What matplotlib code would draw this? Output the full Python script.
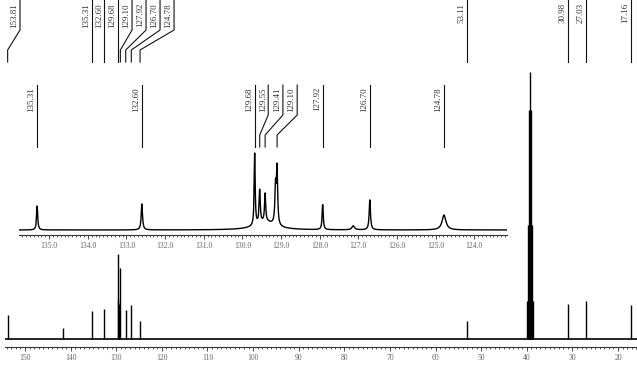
import numpy as np
import matplotlib
matplotlib.use('Agg')
import matplotlib.pyplot as plt
from matplotlib import transforms
from matplotlib.lines import Line2D
from matplotlib.ticker import MultipleLocator, FormatStrFormatter

# full spectrum: peak positions (ppm) and heights
main_ppm = [153.81, 141.70, 135.31, 132.60, 129.68, 129.55, 129.41, 129.10,
            127.92, 126.70, 124.78, 53.11,
            39.92, 39.71, 39.50, 39.29, 39.08, 38.87, 38.66,
            30.98, 27.03, 17.16]
main_height = [24, 11, 28, 30, 85, 40, 35, 71,
               29, 34, 18, 18,
               38, 114, 229, 267, 229, 114, 38,
               35, 38, 34]

# labelled peaks of the full spectrum and where their labels sit
main_labels = [153.81, 135.31, 132.60, 129.68, 129.10, 127.92, 126.70, 124.78,
               53.11, 30.98, 27.03, 17.16]
main_label_x = [151.10, 135.31, 132.60, 129.68, 126.54, 123.47, 120.40, 117.33,
                53.11, 30.98, 27.03, 17.16]

# expanded aromatic region (inset): position, height, width (ppm)
inset_ppm = [135.31, 132.60, 129.68, 129.55, 129.41, 129.14, 129.10, 129.40,
             127.92, 127.13, 126.70, 124.78]
inset_height = [24, 26, 72, 33, 28, 38, 55, 8,
                25, 4, 30, 15]
inset_width = [0.035, 0.04, 0.03, 0.035, 0.035, 0.04, 0.035, 0.6,
               0.035, 0.08, 0.04, 0.12]

inset_labels = [135.31, 132.60, 129.68, 129.55, 129.41, 129.10, 127.92, 126.70, 124.78]
inset_label_x = [135.31, 132.60, 129.68, 129.33, 128.95, 128.58, 127.92, 126.70, 124.78]

W, H = 637, 383
fig = plt.figure(figsize=(W / 100, H / 100), dpi=100)
serif = 'Liberation Serif'


def fx(px):
    return px / W


def fy(py):
    return 1 - py / H


def style_axis(ax, major, minor, fmt):
    for s in ['top', 'left', 'right']:
        ax.spines[s].set_visible(False)
    ax.spines['bottom'].set_linewidth(0.8)
    ax.spines['bottom'].set_color('#333333')
    ax.set_yticks([])
    ax.xaxis.set_major_locator(MultipleLocator(major))
    ax.xaxis.set_minor_locator(MultipleLocator(minor))
    ax.xaxis.set_major_formatter(FormatStrFormatter(fmt))
    ax.tick_params(axis='x', which='major', direction='out', length=3, width=0.7,
                   color='#444444', pad=2, labelsize=5.5, labelcolor='#666666')
    ax.tick_params(axis='x', which='minor', direction='out', length=1.5, width=0.6,
                   color='#444444')
    for t in ax.get_xticklabels():
        t.set_family(serif)
    ax.patch.set_alpha(0)


def draw_labels(ax, peaks, label_x, y_top, y_k1, y_k2, y_bot, text_top):
    blend = transforms.blended_transform_factory(ax.transData, fig.transFigure)
    tr = transforms.offset_copy(blend, fig=fig, x=-1.5, y=0, units='dots')
    for p, lx in zip(peaks, label_x):
        fig.add_artist(Line2D([lx, lx, p, p],
                              [fy(y_top), fy(y_k1), fy(y_k2), fy(y_bot)],
                              transform=blend, lw=0.8, color='#111111'))
        ax.text(lx, fy(text_top), f'{p:.2f}', transform=tr, rotation=90,
                ha='right', va='top', fontsize=6.5, family=serif, color='#333333')


# main spectrum
ax = fig.add_axes([fx(5), fy(347), fx(632), (347 - 70) / H])
ax.set_xlim(154.39, 15.84)
ax.set_ylim(-8, 269)
ax.axhline(0, color='black', lw=1.2)
ax.vlines(main_ppm, 0, main_height, color='black', lw=1.0)
style_axis(ax, 10, 1, '%d')
draw_labels(ax, main_labels, main_label_x, 0, 30, 50, 62, 3)

# inset with expanded aromatic region
axi = fig.add_axes([fx(19), fy(235), fx(488), 85 / H])
axi.set_xlim(135.78, 123.15)
axi.set_ylim(-5, 80)
x = np.linspace(123.15, 135.78, 8000)
y = np.zeros_like(x)
for p, h, w in zip(inset_ppm, inset_height, inset_width):
    y += h / (1 + ((x - p) / (w / 2)) ** 2)
axi.plot(x, y, color='black', lw=1.0)
style_axis(axi, 1.0, 0.1, '%.1f')
draw_labels(axi, inset_labels, inset_label_x, 85, 115, 135, 147, 87)

fig.savefig('out.png', dpi=100, facecolor='white')
